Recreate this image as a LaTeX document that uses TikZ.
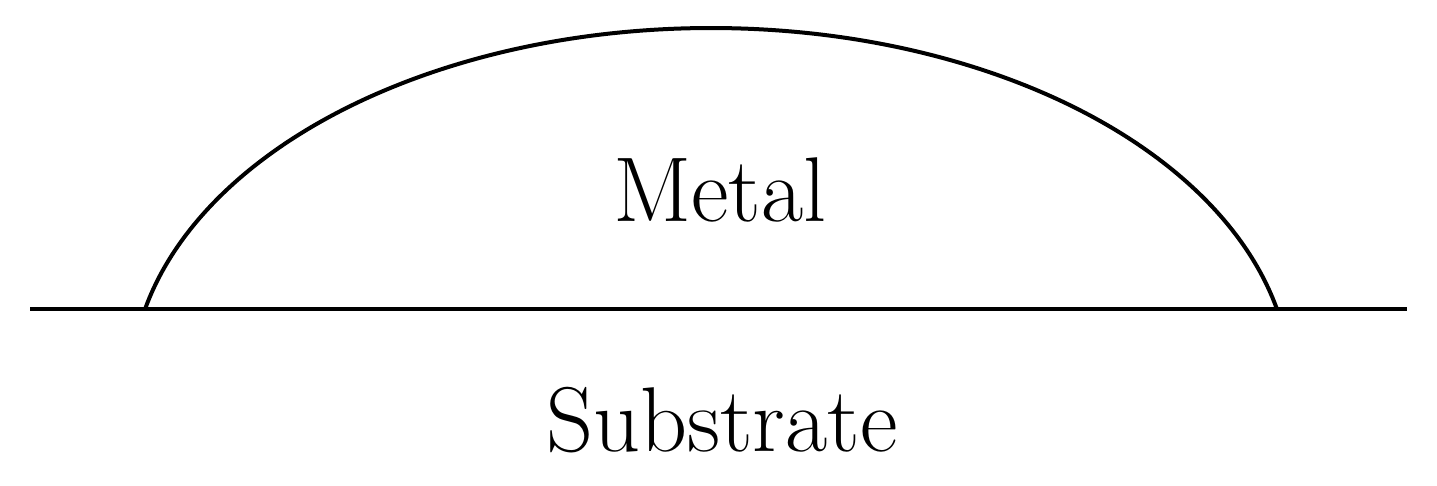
\documentclass[tikz,border=0pt]{standalone}
\begin{document}
\begin{tikzpicture}[x=0.5pt,y=-0.5pt,line width=2pt,
  lbl/.style={font=\fontsize{46}{52}\selectfont,inner sep=0pt}]
\useasboundingbox (0,0) rectangle (1437,486);
\coordinate (l) at (30,309);
\coordinate (r) at (1407,309);
\draw (l) -- (r);
\draw[domain=167.4:12.6,samples=150,smooth] plot ({711+580*cos(\x)},{387.8-359.8*sin(\x)});
\node[lbl] (metal) at (720,190) {Metal};
\node[lbl] (sub) at (722,420) {Substrate};
\end{tikzpicture}
\end{document}
